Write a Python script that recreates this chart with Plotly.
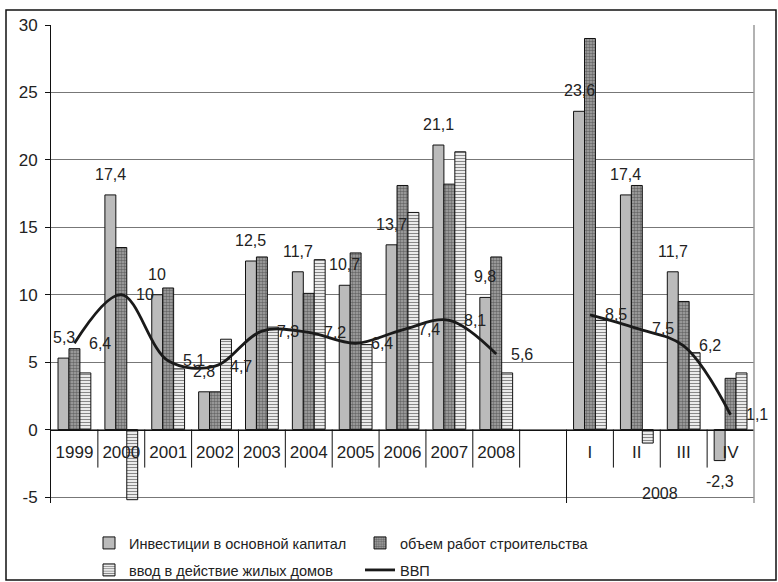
import plotly.graph_objects as go

# ---------------- data ----------------
categories = ["1999", "2000", "2001", "2002", "2003", "2004", "2005", "2006",
              "2007", "2008", " ", "I", "II", "III", "IV"]
group_label = "2008"
investment = [5.3, 17.4, 10, 2.8, 12.5, 11.7, 10.7, 13.7, 21.1, 9.8, None,
              23.6, 17.4, 11.7, -2.3]
construction = [6.0, 13.5, 10.5, 2.8, 12.8, 10.1, 13.1, 18.1, 18.2, 12.8, None,
                29.0, 18.1, 9.5, 3.8]
housing = [4.2, -5.2, 4.5, 6.7, 7.6, 12.6, 6.3, 16.1, 20.6, 4.2, None,
           8.1, -1.0, 5.7, 4.2]
gdp = [6.4, 10.0, 5.1, 4.7, 7.3, 7.2, 6.4, 7.4, 8.1, 5.6, None,
       8.5, 7.5, 6.2, 1.1]
names = ["Инвестиции в основной капитал", "объем работ строительства",
         "ввод в действие жилых домов", "ВВП"]
y_ticks = [-5, 0, 5, 10, 15, 20, 25, 30]

# ---------------- layout constants ----------------
W, H = 778, 582
L, R, T, B = 51, 24, 25, 79
YMIN, YMAX = -5.445, 30
FONT = "Liberation Sans, Arial, sans-serif"
TXT = "#222222"
BARGAP = 0.3
n = len(categories)
bw = (1 - BARGAP) / 3


def fmt(v):
    return f"{v:g}".replace(".", ",")


fig = go.Figure()
fig.add_trace(go.Bar(
    x=categories, y=investment, name=names[0], legend="legend",
    marker=dict(color="white", line=dict(color="#111", width=1),
                pattern=dict(shape=".", size=2, solidity=0.5,
                             fgcolor="#444", bgcolor="#dcdcdc")),
))
fig.add_trace(go.Bar(
    x=categories, y=construction, name=names[1], legend="legend",
    marker=dict(color="white", line=dict(color="#111", width=1),
                pattern=dict(shape=".", size=3, solidity=0.55,
                             fgcolor="#2a2a2a", bgcolor="#a8a8a8")),
))
fig.add_trace(go.Bar(
    x=categories, y=housing, name=names[2], legend="legend2",
    marker=dict(color="white", line=dict(color="#111", width=1),
                pattern=dict(shape="-", size=3, solidity=0.45,
                             fgcolor="#111", bgcolor="white")),
))
fig.add_trace(go.Scatter(
    x=categories, y=gdp, name=names[3], legend="legend2", mode="lines",
    line=dict(color="#1a1a1a", width=2.8, shape="spline", smoothing=1.0),
    connectgaps=False,
))

annotations = []
# data labels of the investment series (first bar in each group)
for i, v in enumerate(investment):
    if v is None:
        continue
    annotations.append(dict(
        x=i - bw, y=v, xref="x", yref="y", text=fmt(v), showarrow=False,
        yanchor="bottom" if v >= 0 else "top", yshift=10 if v >= 0 else -10,
        font=dict(family=FONT, size=16, color=TXT)))
# data labels of GDP (to the right of the point)
for i, v in enumerate(gdp):
    if v is None:
        continue
    annotations.append(dict(
        x=i, y=v, xref="x", yref="y", text=fmt(v), showarrow=False,
        xanchor="left", xshift=13, yanchor="middle",
        font=dict(family=FONT, size=16, color=TXT)))
# second level of the category axis
q_idx = [i for i, c in enumerate(categories) if c in ("I", "II", "III", "IV")]
annotations.append(dict(
    x=(q_idx[0] + q_idx[-1]) / 2, y=0, xref="x", yref="paper",
    text=group_label, showarrow=False, yanchor="bottom", yshift=-1,
    font=dict(family=FONT, size=16, color=TXT)))

zero_pos = (0 - YMIN) / (YMAX - YMIN)
plot_h = H - T - B
short_bottom = zero_pos - 38 / plot_h

shapes = []
for k in range(n - 1):
    b = k + 0.5
    shapes.append(dict(
        type="line", xref="x", yref="paper", x0=b, x1=b,
        y0=0 if b == q_idx[0] - 0.5 else short_bottom, y1=zero_pos,
        line=dict(color="#111", width=1)))
# right border of the plot area
shapes.append(dict(type="line", xref="paper", yref="paper", x0=1, x1=1,
                   y0=0, y1=1, line=dict(color="#999", width=1.5)))
# outer frame of the chart
pw = W - L - R
shapes.append(dict(type="rect", xref="paper", yref="paper",
                   x0=(6 - L) / pw, x1=(776 - L) / pw,
                   y0=(H - B - 580) / plot_h, y1=(H - B - 10) / plot_h,
                   line=dict(color="#111", width=1.5)))

fig.update_layout(
    width=W, height=H, margin=dict(l=L, r=R, t=T, b=B, autoexpand=False),
    paper_bgcolor="white", plot_bgcolor="white",
    barmode="group", bargap=BARGAP, bargroupgap=0,
    font=dict(family=FONT, size=16, color=TXT),
    annotations=annotations, shapes=shapes,
    xaxis=dict(type="category", categoryorder="array", categoryarray=categories,
               range=[-0.5, n - 0.5], anchor="free", position=zero_pos,
               automargin=False,
               showgrid=False, showline=True, linecolor="#111", linewidth=1,
               ticks="", ticklabelstandoff=7,
               tickfont=dict(family=FONT, size=17, color=TXT)),
    yaxis=dict(range=[YMIN, YMAX], tickvals=y_ticks,
               ticktext=[str(t) for t in y_ticks], automargin=False,
               showgrid=True, gridcolor="#777", gridwidth=1, zeroline=False,
               showline=True, linecolor="#111", linewidth=1,
               ticks="outside", ticklen=5, tickcolor="#111",
               ticklabelstandoff=4,
               tickfont=dict(family=FONT, size=17, color=TXT)),
    legend=dict(orientation="h", x=(89 - L) / pw, xanchor="left",
                y=(H - B - 543) / plot_h, yanchor="middle",
                entrywidth=226, entrywidthmode="pixels",
                font=dict(family=FONT, size=14.5, color=TXT),
                bgcolor="rgba(0,0,0,0)", traceorder="normal"),
    legend2=dict(orientation="h", x=(89 - L) / pw, xanchor="left",
                 y=(H - B - 570) / plot_h, yanchor="middle",
                 entrywidth=226, entrywidthmode="pixels",
                 font=dict(family=FONT, size=14.5, color=TXT),
                 bgcolor="rgba(0,0,0,0)", traceorder="normal"),
)

# the page's default 8px body margin would shift the whole chart
fig.write_html("out.html", config={"displayModeBar": False},
               post_script="document.body.style.margin='0';")
